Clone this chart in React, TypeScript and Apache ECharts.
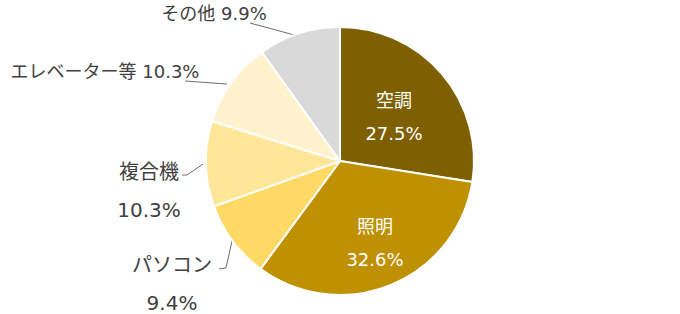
import { useEffect, useRef } from 'react';
import * as echarts from 'echarts';

// Energy consumption share by use (%)
const categories = ['空調', '照明', 'パソコン', '複合機', 'エレベーター等', 'その他'];
const shares = [27.5, 32.6, 9.4, 10.3, 10.3, 9.9];
const sliceColors = ['#7F6000', '#BF9000', '#FFD966', '#FFE699', '#FFF2CC', '#D9D9D9'];

// label placement (centre of each label block) and leader-line routes
const labelCenters: [number, number][] = [
  [394, 116.5],
  [375, 243],
  [172, 284],
  [149, 191],
  [105, 71],
  [214, 13],
];
const leaderLines: (number[][] | null)[] = [
  null,
  null,
  [[232, 241], [226, 268], [219, 269]],
  [[203, 164], [187, 175], [182, 175]],
  [[227, 84], [206, 82.5], [185, 81]],
  [[298, 36], [274, 29.5], [250, 23]],
];

const FONT = '"DejaVu Sans", "Noto Sans CJK JP", sans-serif';
const TEXT = '#404040';

export default function App() {
  const ref = useRef<HTMLDivElement>(null);
  useEffect(() => {
    if (!ref.current) return;
    const chart = echarts.init(ref.current, undefined, { renderer: 'svg' });
    chart.setOption({
      animation: false,
      backgroundColor: '#ffffff',
      series: [
        {
          type: 'pie',
          center: [340, 161],
          radius: 134,
          startAngle: 90,
          clockwise: true,
          avoidLabelOverlap: false,
          itemStyle: { borderColor: '#ffffff', borderWidth: 2 },
          emphasis: { disabled: true },
          label: {
            show: true,
            position: 'outside',
            fontFamily: FONT,
            color: TEXT,
            formatter: (p: any) => {
              const v = Number(p.value).toFixed(1);
              if (p.dataIndex <= 1) return `{in|${p.name}}\n{in|${v}%}`;
              if (p.dataIndex <= 3) return `{big|${p.name}}\n{big|${v}%}`;
              return `{out|${p.name} ${v}%}`;
            },
            rich: {
              in: { fontSize: 18, color: '#ffffff', lineHeight: 33, fontFamily: FONT, align: 'center' },
              big: { fontSize: 20, color: TEXT, lineHeight: 38, fontFamily: FONT, align: 'center' },
              out: { fontSize: 18, color: TEXT, lineHeight: 24, fontFamily: FONT, align: 'center' },
            },
          },
          labelLine: {
            show: true,
            lineStyle: { color: '#6e6e6e', width: 1 },
          },
          labelLayout: (params: any) => {
            const i = params.dataIndex;
            const [x, y] = labelCenters[i];
            const res: any = { x, y, align: 'center', verticalAlign: 'middle' };
            if (leaderLines[i]) res.labelLinePoints = leaderLines[i];
            return res;
          },
          data: categories.map((name, i) => ({
            name,
            value: shares[i],
            itemStyle: { color: sliceColors[i] },
            labelLine: { show: i >= 2 },
          })),
        },
      ],
    });
    return () => chart.dispose();
  }, []);
  return (
    <div
      ref={ref}
      style={{ position: 'fixed', left: 0, top: 0, width: 680, height: 314 }}
    />
  );
}
